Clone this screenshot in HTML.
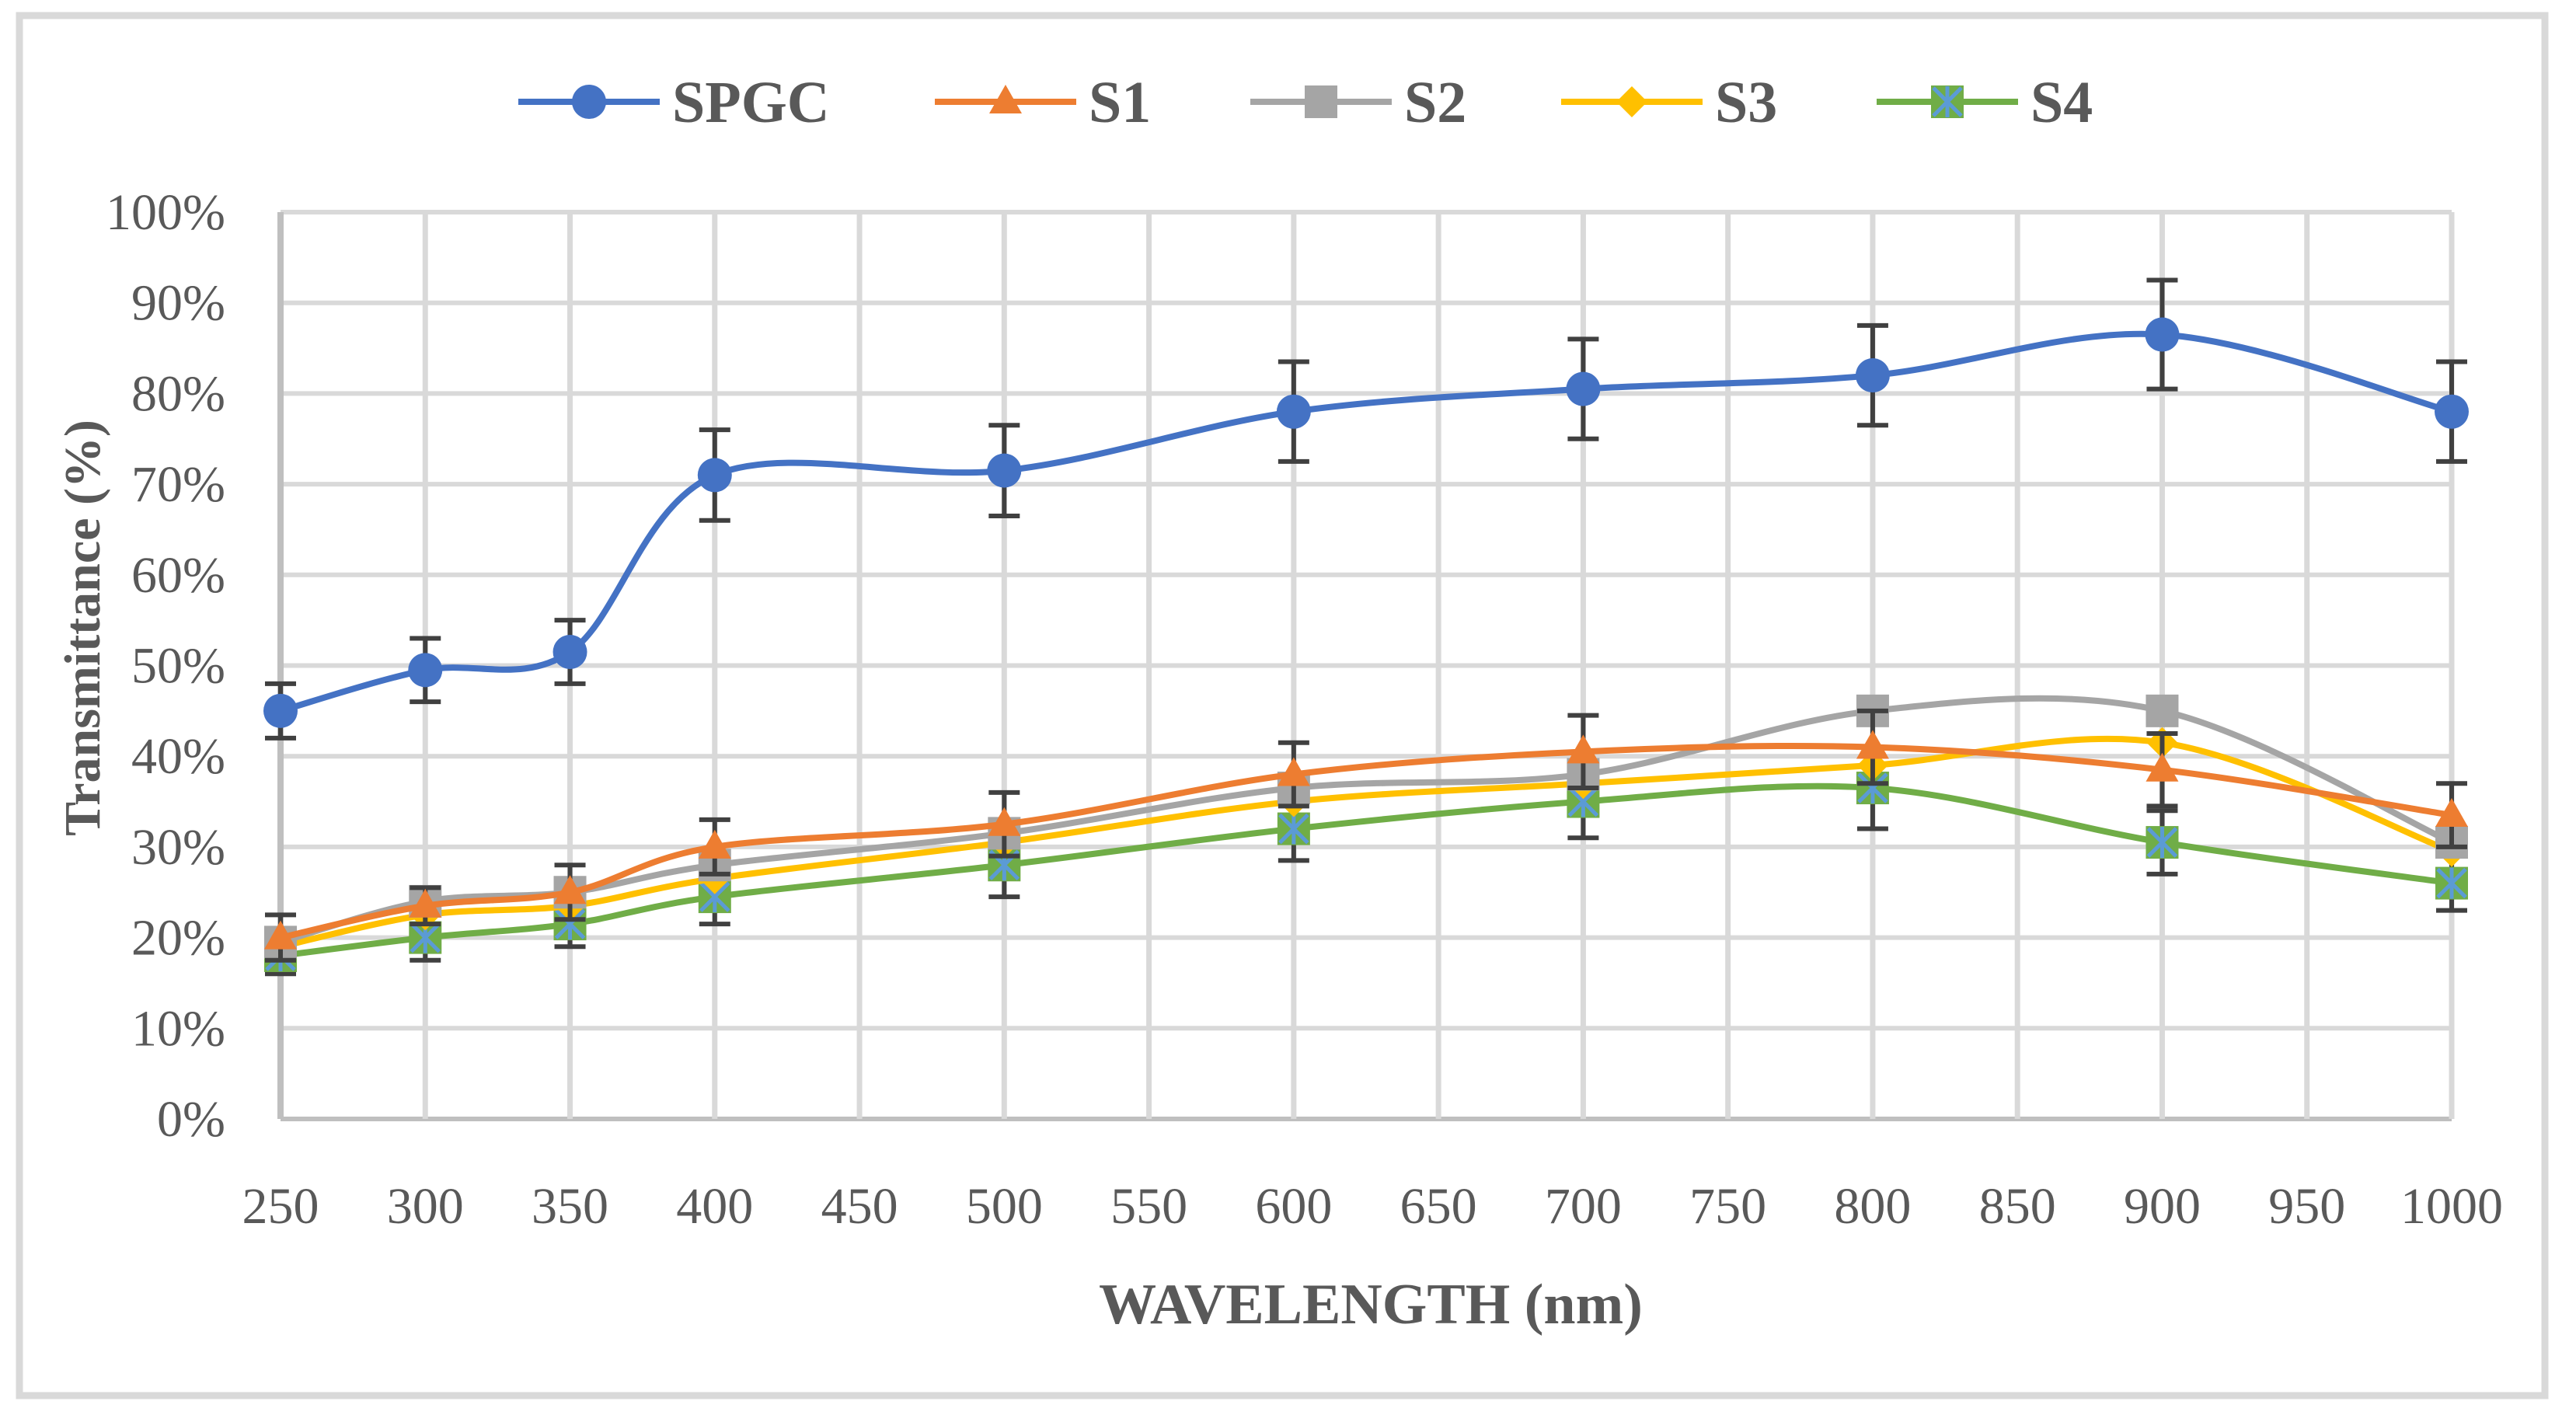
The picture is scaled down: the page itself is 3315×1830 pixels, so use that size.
<!DOCTYPE html>
<html><head><meta charset="utf-8"><style>
html,body{margin:0;padding:0;background:#fff;}
svg{display:block;}
</style></head><body>
<svg id="chart" width="3315" height="1830" viewBox="0 0 3315 1830" xmlns="http://www.w3.org/2000/svg" font-family="'Liberation Serif', serif">
<rect x="25" y="20" width="3250" height="1776" fill="#fff" stroke="#d9d9d9" stroke-width="9"/>
<g id="grid"></g>
<g id="series"></g>
<g id="legend"></g>
<text x="1764" y="1703" text-anchor="middle" font-size="74" font-weight="bold" fill="#595959">WAVELENGTH (nm)</text>
<text transform="translate(128,808) rotate(-90)" text-anchor="middle" font-size="66" font-weight="bold" fill="#595959">Transmittance (%)</text>
</svg>
<script>
const xTicks = [250,300,350,400,450,500,550,600,650,700,750,800,850,900,950,1000];
const yTicks = [0,10,20,30,40,50,60,70,80,90,100];
const wavelengths = [250,300,350,400,500,600,700,800,900,1000];
const spgc = [45,49.5,51.5,71,71.5,78,80.5,82,86.5,78];
const spgcErr = [3,3.5,3.5,5,5,5.5,5.5,5.5,6,5.5];
const s1 = [20,23.5,25,30,32.5,38,40.5,41,38.5,33.5];
const s1Err = [2.5,2,3,3,3.5,3.5,4,4,4,3.5];
const s2 = [19.5,24,25,28,31.5,36.5,38,45,45,30.5];
const s3 = [19,22.5,23.5,26.5,30.5,35,37,39,41.5,29.5];
const s4 = [18,20,21.5,24.5,28,32,35,36.5,30.5,26];
const s4Err = [2,2.5,2.5,3,3.5,3.5,4,4.5,3.5,3];

const NS="http://www.w3.org/2000/svg";
const X0=361,X1=3155,Y0=1440,Y1=273;
const xs=v=>X0+(v-250)/(750)*(X1-X0);
const ys=v=>Y0-(v/100)*(Y0-Y1);
function mk(tag,attrs,parent){const e=document.createElementNS(NS,tag);for(const k in attrs)e.setAttribute(k,attrs[k]);parent.appendChild(e);return e;}
const grid=document.getElementById('grid');
yTicks.forEach(t=>{
  const l=mk('line',{x1:X0,x2:X1,y1:ys(t),y2:ys(t),stroke:t===0?'#bfbfbf':'#d9d9d9','stroke-width':6},grid);
  
  
  const tx=mk('text',{x:290,y:ys(t)+22,'text-anchor':'end','font-size':66,fill:'#595959'},grid);
  tx.textContent=t+'%';
  
  
});
xTicks.forEach(t=>{
  const l=mk('line',{x1:xs(t),x2:xs(t),y1:Y1,y2:Y0,stroke:t===250?'#bfbfbf':'#d9d9d9','stroke-width':t===250?8:7},grid);
  
  
  const tx=mk('text',{x:xs(t),y:1574,'text-anchor':'middle','font-size':66,fill:'#595959'},grid);
  tx.textContent=t;
  
  
});
function smooth(pts){
  let d='M'+pts[0][0]+','+pts[0][1];
  const t=1/6;
  for(let i=0;i<pts.length-1;i++){
    const p0=pts[Math.max(0,i-1)],p1=pts[i],p2=pts[i+1],p3=pts[Math.min(pts.length-1,i+2)];
    const c1=[p1[0]+(p2[0]-p0[0])*t,p1[1]+(p2[1]-p0[1])*t];
    const c2=[p2[0]-(p3[0]-p1[0])*t,p2[1]-(p3[1]-p1[1])*t];
    d+=' C'+c1+' '+c2+' '+p2;
  }
  return d;
}
function marker(type,color,cx,cy,parent,r){
  let e;
  if(type==='circle')e=mk('circle',{cx,cy,r:r||22,fill:color},parent);
  else if(type==='tri')e=mk('polygon',{points:`${cx},${cy-22} ${cx+21},${cy+15} ${cx-21},${cy+15}`,fill:color},parent);
  else if(type==='square')e=mk('rect',{x:cx-21,y:cy-21,width:42,height:42,fill:color},parent);
  else if(type==='diamond')e=mk('polygon',{points:`${cx},${cy-20} ${cx+20},${cy} ${cx},${cy+20} ${cx-20},${cy}`,fill:color},parent);
  else {e=mk('g',{},parent);
    mk('rect',{x:cx-21,y:cy-21,width:42,height:42,fill:color},e);
    mk('path',{d:`M${cx-18},${cy-18}L${cx+18},${cy+18}M${cx+18},${cy-18}L${cx-18},${cy+18}M${cx},${cy-20}L${cx},${cy+20}`,stroke:'#5b9bd5','stroke-width':5},e);}
  return e;
}
const seriesG=document.getElementById('series');
const defs=[
 {name:'S4',vals:s4,err:s4Err,color:'#70ad47',m:'x'},
 {name:'S3',vals:s3,err:null,color:'#ffc000',m:'diamond'},
 {name:'S2',vals:s2,err:null,color:'#a5a5a5',m:'square'},
 {name:'S1',vals:s1,err:s1Err,color:'#ed7d31',m:'tri'},
 {name:'SPGC',vals:spgc,err:spgcErr,color:'#4472c4',m:'circle'}
];
function errBars(vals,err,g){
  vals.forEach((v,i)=>{
    const x=xs(wavelengths[i]),a=ys(v+err[i]),b=ys(v-err[i]);
    const p=mk('path',{d:`M${x},${a}L${x},${b}M${x-20},${a}L${x+20},${a}M${x-20},${b}L${x+20},${b}`,stroke:'#404040','stroke-width':6,fill:'none'},g);
    
    
  });
}
defs.forEach(s=>{
  const g=mk('g',{},seriesG);
  
  
  if(s.err)errBars(s.vals,s.err,g);
  const pts=s.vals.map((v,i)=>[xs(wavelengths[i]),ys(v)]);
  const p=mk('path',{d:smooth(pts),fill:'none',stroke:s.color,'stroke-width':8},g);
  
  
  pts.forEach(pt=>{
    const m=marker(s.m,s.color,pt[0],pt[1],g);
    
    
  });
});
const lg=document.getElementById('legend');
const legendItems=[['SPGC','#4472c4','circle',667],['S1','#ed7d31','tri',1203],['S2','#a5a5a5','square',1609],['S3','#ffc000','diamond',2009],['S4','#70ad47','x',2415]];
legendItems.forEach(it=>{
  const g=mk('g',{},lg);
  
  
  mk('line',{x1:it[3],x2:it[3]+182,y1:131,y2:131,stroke:it[1],'stroke-width':8},g);
  marker(it[2],it[1],it[3]+91,131,g);
  const t=mk('text',{x:it[3]+198,y:157,'font-size':76,'font-weight':'bold',fill:'#595959'},g);
  t.textContent=it[0];
});
</script>
</body></html>
